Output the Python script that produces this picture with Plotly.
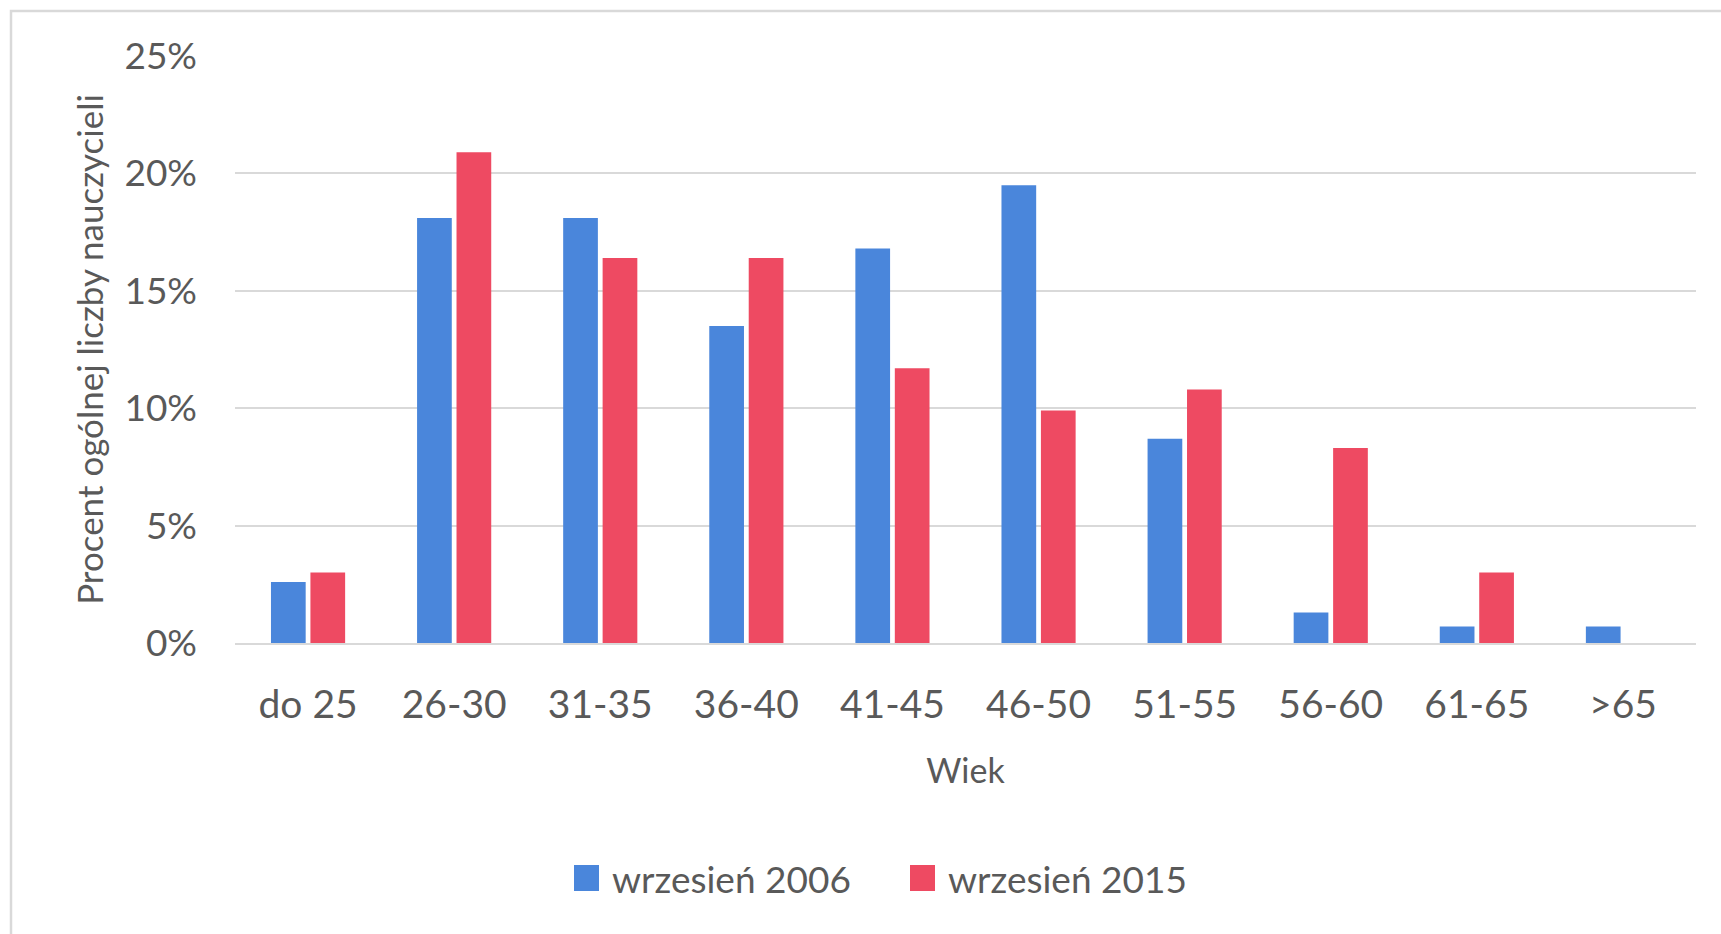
import plotly.graph_objects as go

categories = ["do 25", "26-30", "31-35", "36-40", "41-45", "46-50", "51-55", "56-60", "61-65", ">65"]
series_names = ["wrzesień 2006", "wrzesień 2015"]
values_2006 = [2.6, 18.1, 18.1, 13.5, 16.8, 19.5, 8.7, 1.3, 0.7, 0.7]
values_2015 = [3.0, 20.9, 16.4, 16.4, 11.7, 9.9, 10.8, 8.3, 3.0, 0.0]
y_ticks = [0, 5, 10, 15, 20, 25]
y_tick_labels = ["0%", "5%", "10%", "15%", "20%", "25%"]
colors = ["#4A86DB", "#EE4A62"]

W, H = 1721, 934
L, R, T, B = 235, 25, 56, 291
pw, ph = W - L - R, H - T - B

def px_x(p):
    return (p - L) / pw

def px_y(p):
    return 1 - (p - T) / ph

text_color = "#595959"
font_family = "Lato, Carlito, Calibri, sans-serif"

fig = go.Figure()
for name, vals, col in zip(series_names, [values_2006, values_2015], colors):
    fig.add_trace(go.Bar(x=categories, y=vals, name=name, marker=dict(color=col, line=dict(width=0)),
                         showlegend=False))

fig.update_layout(
    width=W, height=H, autosize=False,
    margin=dict(l=L, r=R, t=T, b=B, pad=0),
    paper_bgcolor="white", plot_bgcolor="white",
    barmode="group", bargap=0.46, bargroupgap=0.12,
    font=dict(family=font_family, color=text_color),
)
fig.update_yaxes(
    range=[0, 25], tickvals=y_ticks, ticktext=y_tick_labels,
    showgrid=True, gridcolor="#D9D9D9", gridwidth=1.5, zeroline=False,
    showline=False, ticks="", ticklabelstandoff=37,
    tickfont=dict(size=37, color=text_color, family=font_family),
    title=dict(text="Procent ogólnej liczby nauczycieli", font=dict(size=35, color=text_color, family=font_family),
               standoff=10),
)
fig.update_xaxes(
    showgrid=False, showline=True, linecolor="#D9D9D9", linewidth=2, ticks="",
    ticklabelstandoff=26,
    tickfont=dict(size=39, color=text_color, family=font_family),
    title=dict(text="Wiek", font=dict(size=34, color=text_color, family=font_family), standoff=34),
)

# chart border
fig.add_shape(type="rect", xref="paper", yref="paper",
              x0=px_x(11), x1=px_x(W + 20), y0=px_y(H + 20), y1=px_y(11),
              line=dict(color="#D9D9D9", width=2.5), fillcolor="rgba(0,0,0,0)", layer="below")

# legend (manual, to match symbol size)
legend_items = [(574, series_names[0], colors[0]), (910, series_names[1], colors[1])]
for x0, name, col in legend_items:
    fig.add_shape(type="rect", xref="paper", yref="paper",
                  x0=px_x(x0), x1=px_x(x0 + 25), y0=px_y(891), y1=px_y(865),
                  line=dict(width=0), fillcolor=col)
    fig.add_annotation(xref="paper", yref="paper", x=px_x(x0 + 36), y=px_y(878),
                       xanchor="left", yanchor="middle", text=name, showarrow=False,
                       font=dict(size=37, color=text_color, family=font_family))

fig.write_html("out.html", config={"displayModeBar": False},
               post_script="document.body.style.margin='0';document.body.style.overflow='hidden';")
